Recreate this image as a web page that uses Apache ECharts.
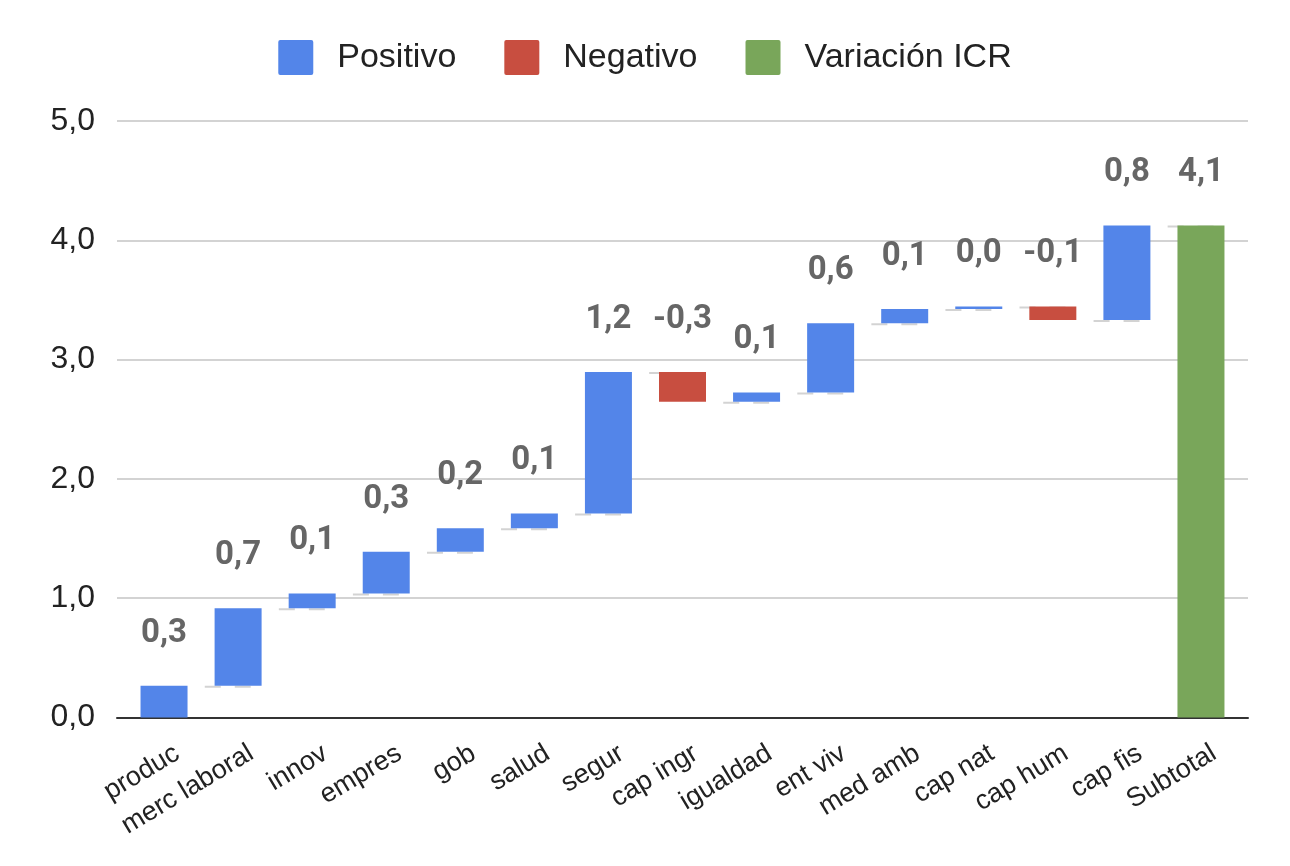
<!DOCTYPE html>
<html>
<head>
<meta charset="utf-8">
<script src="https://cdn.jsdelivr.net/npm/echarts@6/dist/echarts.min.js"></script>
<style>
html,body{margin:0;padding:0;background:#fff;}
#chart{width:1290px;height:866px;}
</style>
</head>
<body>
<div id="chart"></div>
<script>
// ---- data ----
const categories = ['produc','merc laboral','innov','empres','gob','salud','segur','cap ingr','igualdad','ent viv','med amb','cap nat','cap hum','cap fis','Subtotal'];
const deltas = [0.266, 0.65, 0.124, 0.349, 0.197, 0.124, 1.186, -0.25, 0.078, 0.58, 0.12, 0.022, -0.114, 0.792];
const subtotal = 4.124;
const yTickValues = [0, 1, 2, 3, 4, 5];
const legendNames = ['Positivo', 'Negativo', 'Variación ICR'];

// ---- build waterfall tables ----
const baseArr = [], posArr = [], negArr = [], totArr = [], connectors = [];
let cum = 0;
deltas.forEach((d, i) => {
  if (d >= 0) { baseArr.push(cum); posArr.push(d); negArr.push('-'); }
  else { baseArr.push(cum + d); negArr.push(-d); posArr.push('-'); }
  totArr.push('-');
  cum += d;
  connectors.push([i, cum]);
});
baseArr.push(0); posArr.push('-'); negArr.push('-'); totArr.push(subtotal);

const fmt = v => v.toFixed(1).replace('.', ',');
const colors = {pos: '#5385e9', neg: '#c84e40', tot: '#79a65a'};
const labelStyle = {
  show: true, position: 'top', distance: 36,
  fontFamily: 'Roboto', fontWeight: 'bold', fontSize: 33, color: '#666666'
};
const barW = 47;
const sq = 'path://M2,0 H33 Q35,0 35,2 V33 Q35,35 33,35 H2 Q0,35 0,33 V2 Q0,0 2,0 Z';

const chart = echarts.init(document.getElementById('chart'));
chart.setOption({
  animation: false,
  legend: {
    data: legendNames.map(n => ({name: n, icon: sq})),
    top: 40, left: 'center', padding: 0,
    itemWidth: 35, itemHeight: 35, itemGap: 48,
    textStyle: {fontFamily: 'Liberation Sans', fontSize: 34, color: '#222', padding: [0, 0, 0, 19]}
  },
  grid: [
    {left: 117, right: 42, top: 121, bottom: 148.5},
    {left: 127, right: 52, top: 121, bottom: 148.5}
  ],
  xAxis: [
    {gridIndex: 0, type: 'value', min: 0, max: 1,
     axisLabel: {show: false}, axisTick: {show: false}, splitLine: {show: false},
     axisLine: {show: true, lineStyle: {color: '#333', width: 2}}},
    {gridIndex: 1, type: 'category', data: categories,
     axisLine: {show: false}, axisTick: {show: false},
     axisLabel: {interval: 0, rotate: 31, margin: 12, align: 'right', verticalAlign: 'top',
       padding: [12, 0, 0, 0],
       fontFamily: 'Liberation Sans', fontSize: 27, color: '#222'}}
  ],
  yAxis: [
    {gridIndex: 0, type: 'value', min: yTickValues[0], max: yTickValues[yTickValues.length - 1], interval: 1,
     axisLine: {show: false}, axisTick: {show: false},
     axisLabel: {margin: 22, fontFamily: 'Liberation Sans', fontSize: 32, color: '#222', formatter: v => fmt(v)},
     splitLine: {lineStyle: {color: '#d3d3d3', width: 2}}},
    {gridIndex: 1, type: 'value', min: 0, max: 5, interval: 1, show: false, splitLine: {show: false}}
  ],
  series: [
    {type: 'custom', xAxisIndex: 1, yAxisIndex: 1, z: 1, silent: true,
     data: connectors,
     renderItem: (params, api) => {
       const p = api.coord([api.value(0), api.value(1)]);
       const band = api.size([1, 0])[0];
       const x1 = p[0] + band * 0.55;
       const x2 = x1 + band * 0.62;
       return {type: 'line', shape: {x1: x1, y1: p[1] + 1, x2: x2, y2: p[1] + 1},
               style: {stroke: '#d3d3d3', lineWidth: 2, lineDash: [16, 14]}};
     }},
    {name: 'base', type: 'bar', stack: 'w', xAxisIndex: 1, yAxisIndex: 1, barWidth: barW, z: 2,
     itemStyle: {color: 'transparent'}, data: baseArr, silent: true},
    {name: 'Positivo', type: 'bar', stack: 'w', xAxisIndex: 1, yAxisIndex: 1, barWidth: barW, z: 3,
     itemStyle: {color: colors.pos}, data: posArr,
     label: Object.assign({}, labelStyle, {formatter: p => fmt(deltas[p.dataIndex])})},
    {name: 'Negativo', type: 'bar', stack: 'w', xAxisIndex: 1, yAxisIndex: 1, barWidth: barW, z: 3,
     itemStyle: {color: colors.neg}, data: negArr,
     label: Object.assign({}, labelStyle, {formatter: p => fmt(deltas[p.dataIndex])})},
    {name: 'Variación ICR', type: 'bar', stack: 'w', xAxisIndex: 1, yAxisIndex: 1, barWidth: barW, z: 3,
     itemStyle: {color: colors.tot}, data: totArr,
     label: Object.assign({}, labelStyle, {formatter: p => fmt(subtotal)})}
  ]
});
</script>
</body>
</html>
